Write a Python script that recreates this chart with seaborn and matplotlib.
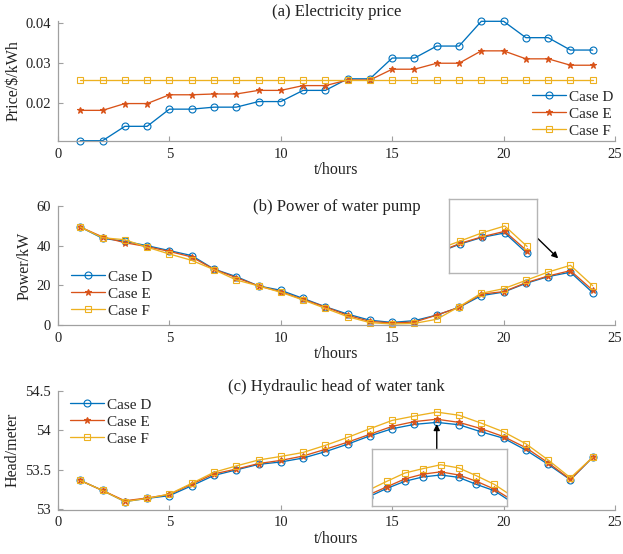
import matplotlib
matplotlib.use("Agg")
import matplotlib.pyplot as plt
import seaborn as sns

# hourly values
hours = list(range(1, 25))
case_names = ["Case D", "Case E", "Case F"]

price_D = [0.0106, 0.0106, 0.0142, 0.0142, 0.0185, 0.0185, 0.0190, 0.0190,
           0.0204, 0.0204, 0.0232, 0.0232, 0.0261, 0.0261, 0.0313, 0.0313,
           0.0343, 0.0343, 0.0405, 0.0405, 0.0364, 0.0364, 0.0333, 0.0333]
price_E = [0.0182, 0.0182, 0.0199, 0.0199, 0.0221, 0.0221, 0.0223, 0.0223,
           0.0232, 0.0232, 0.0244, 0.0244, 0.0258, 0.0258, 0.0285, 0.0285,
           0.0300, 0.0300, 0.0331, 0.0331, 0.0311, 0.0311, 0.0295, 0.0295]
price_F = [0.0257, 0.0257, 0.0257, 0.0257, 0.0257, 0.0257, 0.0257, 0.0257,
           0.0257, 0.0257, 0.0257, 0.0257, 0.0257, 0.0257, 0.0257, 0.0257,
           0.0257, 0.0257, 0.0257, 0.0257, 0.0257, 0.0257, 0.0257, 0.0257]

pump_D = [49.4, 43.7, 42.2, 40.0, 37.5, 35.0, 28.2, 24.4, 19.7, 17.5, 13.4, 9.2,
          5.5, 2.4, 1.3, 2.2, 5.0, 8.9, 14.8, 16.6, 21.0, 24.4, 26.6, 16.3]
pump_E = [49.4, 44.4, 41.5, 39.5, 37.1, 34.3, 28.1, 23.9, 19.7, 16.8, 12.9, 9.1,
          4.9, 1.8, 1.0, 1.5, 5.0, 8.9, 15.6, 16.8, 21.3, 24.7, 27.4, 17.5]
pump_F = [49.4, 44.0, 43.0, 39.2, 35.8, 32.6, 27.9, 22.7, 19.7, 16.5, 12.6, 8.4,
          4.2, 1.2, 0.5, 0.8, 2.9, 9.2, 16.0, 18.3, 22.5, 26.7, 30.1, 19.8]

head_D = [53.367, 53.24, 53.10, 53.14, 53.175, 53.30, 53.43, 53.50, 53.57, 53.60,
          53.65, 53.73, 53.825, 53.93, 54.02, 54.075, 54.10, 54.07, 53.98, 53.90,
          53.75, 53.57, 53.375, 53.66]
head_E = [53.367, 53.24, 53.11, 53.145, 53.19, 53.32, 53.45, 53.51, 53.58, 53.62,
          53.675, 53.76, 53.85, 53.95, 54.05, 54.11, 54.14, 54.10, 54.02, 53.92,
          53.78, 53.59, 53.38, 53.66]
head_F = [53.367, 53.24, 53.10, 53.14, 53.195, 53.33, 53.47, 53.55, 53.625, 53.67,
          53.72, 53.81, 53.91, 54.02, 54.125, 54.18, 54.23, 54.19, 54.09, 53.98,
          53.83, 53.625, 53.40, 53.66]

colors = ["#0072BD", "#D95319", "#EDB120"]
markers = ["o", "*", "s"]
faces = ["none", None, "none"]
msizes = [5.0, 4.6, 4.2]

sns.set_theme(style="ticks")
plt.rcParams["font.family"] = ["Liberation Serif", "DejaVu Serif"]
plt.rcParams["xtick.direction"] = "in"
plt.rcParams["ytick.direction"] = "in"
plt.rcParams["axes.edgecolor"] = "#a0a0a0"
plt.rcParams["axes.linewidth"] = 0.9
plt.rcParams["xtick.color"] = "#a0a0a0"
plt.rcParams["ytick.color"] = "#a0a0a0"
plt.rcParams["xtick.labelcolor"] = "#222222"
plt.rcParams["ytick.labelcolor"] = "#222222"

W, H = 623, 554
fig = plt.figure(figsize=(W / 100, H / 100), dpi=100)


def rect(left, top, right, bottom):
    return [left / W, 1 - bottom / H, (right - left) / W, (bottom - top) / H]


def draw_series(ax, series, main=True):
    for name, vals, c, m, fc, ms in zip(case_names, series, colors, markers, faces, msizes):
        sns.lineplot(x=hours, y=vals, ax=ax, color=c, marker=m, markersize=ms,
                     markerfacecolor=fc if fc else c, markeredgecolor=c,
                     markeredgewidth=0.8, linewidth=0.95,
                     label=name if main else None, legend=False,
                     clip_on=not main)


def style_main(ax, ylim, yticks, ylabel):
    ax.set_xlim(0, 25)
    ax.set_ylim(*ylim)
    ax.set_xticks([0, 5, 10, 15, 20, 25])
    ax.set_yticks(yticks)
    ax.tick_params(labelsize=10.5, length=3.5, width=0.8, pad=5)
    ax.set_xlabel("t/hours", fontsize=11.5, labelpad=1, color="#222222")
    ax.set_ylabel(ylabel, fontsize=11.5, labelpad=3, color="#222222")
    sns.despine(ax=ax)


def make_inset(r, xlim, ylim, series):
    axi = fig.add_axes(rect(*r))
    draw_series(axi, series, main=False)
    axi.set_xlim(*xlim)
    axi.set_ylim(*ylim)
    axi.set_xticks([])
    axi.set_yticks([])
    for s in axi.spines.values():
        s.set_color("#b5b5b5")
        s.set_linewidth(1.0)
    axi.set_facecolor("white")
    return axi


def pix_anchor(x, y):
    return (x / W, 1 - y / H)


leg_kw = dict(frameon=False, fontsize=11, handlelength=2.2, handletextpad=0.2,
              labelspacing=0.22, borderpad=0, borderaxespad=0, loc="upper left",
              bbox_transform=fig.transFigure)

# (a) electricity price
ax1 = fig.add_axes(rect(58, 21.3, 615, 140.7))
draw_series(ax1, [price_D, price_E, price_F])
style_main(ax1, (0.0106, 0.0405), [0.02, 0.03, 0.04], "Price/$/kWh")
ax1.legend(bbox_to_anchor=pix_anchor(532, 90), **leg_kw)
fig.text(336.5 / W, 1 - 16 / H, "(a) Electricity price", ha="center",
         va="baseline", fontsize=12, color="#222222")

# (b) power of water pump
ax2 = fig.add_axes(rect(58, 206, 615, 325))
draw_series(ax2, [pump_D, pump_E, pump_F])
style_main(ax2, (0, 60), [0, 20, 40, 60], "Power/kW")
ax2.legend(bbox_to_anchor=pix_anchor(71, 270), **leg_kw)
fig.text(336.5 / W, 1 - 211 / H, "(b) Power of water pump", ha="center",
         va="baseline", fontsize=12, color="#222222")
ax2.annotate("", xy=(22.45, 33.6), xytext=(21.48, 44.2),
             arrowprops=dict(arrowstyle="-|>", color="black", lw=1.0,
                             mutation_scale=9, shrinkA=0, shrinkB=0))
make_inset((449.3, 199, 536.7, 273), (20.52, 24.43), (6.4, 43.7),
           [pump_D, pump_E, pump_F])

# (c) hydraulic head of water tank
ax3 = fig.add_axes(rect(58, 390.7, 615, 509.5))
draw_series(ax3, [head_D, head_E, head_F])
style_main(ax3, (53, 54.5), [53, 53.5, 54, 54.5], "Head/meter")
ax3.set_yticklabels(["53", "53.5", "54", "54.5"])
ax3.legend(bbox_to_anchor=pix_anchor(70, 398), **leg_kw)
fig.text(336.5 / W, 1 - 391 / H, "(c) Hydraulic head of water tank", ha="center",
         va="baseline", fontsize=12, color="#222222")
ax3.annotate("", xy=(17, 54.08), xytext=(17, 53.76),
             arrowprops=dict(arrowstyle="-|>", color="black", lw=1.0,
                             mutation_scale=9, shrinkA=0, shrinkB=0))
make_inset((371.7, 449, 507.3, 505.7), (13.15, 20.72), (53.71, 54.43),
           [head_D, head_E, head_F])

fig.savefig("out.png", dpi=100)
